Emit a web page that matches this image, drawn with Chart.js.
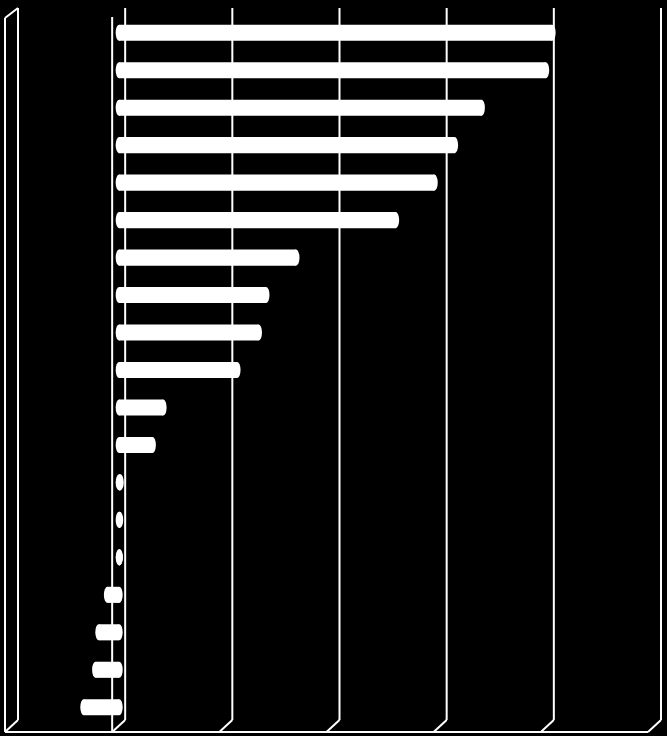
<!DOCTYPE html>
<html>
<head>
<meta charset="utf-8">
<title>Bar chart</title>
<script src="https://cdn.jsdelivr.net/npm/chart.js@4"></script>
<style>
  html, body { margin: 0; padding: 0; background: #000; }
  #chart { display: block; }
</style>
</head>
<body>
<canvas id="chart" width="667" height="736"></canvas>
<script>
// ===== data (in grid-step units) =====
const categories = ['1','2','3','4','5','6','7','8','9','10','11','12','13','14','15','16','17','18','19'];
const values = [4.04, 3.98, 3.38, 3.13, 2.94, 2.58, 1.65, 1.37, 1.30, 1.10, 0.41, 0.31, 0.01, 0.005, 0.003, -0.11, -0.19, -0.22, -0.33];
const tickValues = [-1, 0, 1, 2, 3, 4, 5];

// ===== fake 3D walls / floor drawn from the x scale =====
const BACK = { dx: 6, dy: -6 };
const FRONT = { dx: -7, dy: 6 };
const CAP_RX = 3.5;

const wallPlugin = {
  id: 'walls',
  beforeDatasetsDraw(chart) {
    const { ctx, chartArea: a, scales: { x } } = chart;
    const line = (x1, y1, x2, y2) => { ctx.beginPath(); ctx.moveTo(x1, y1); ctx.lineTo(x2, y2); ctx.stroke(); };
    ctx.save();
    ctx.strokeStyle = '#fff';
    ctx.lineWidth = 2;
    const bTop = a.top + BACK.dy, bBot = a.bottom + BACK.dy;
    const fTop = a.top + FRONT.dy, fBot = a.bottom + FRONT.dy;
    tickValues.forEach(v => {
      const px = x.getPixelForValue(v);
      line(px + BACK.dx, bTop, px + BACK.dx, bBot);      // back wall grid line
      line(px + BACK.dx, bBot, px + FRONT.dx, fBot);     // floor connector
    });
    // floor front edge
    line(x.getPixelForValue(tickValues[0]) + FRONT.dx, fBot,
         x.getPixelForValue(tickValues[tickValues.length - 1]) + FRONT.dx, fBot);
    // left side wall
    const lx = x.getPixelForValue(tickValues[0]);
    line(lx + FRONT.dx, fTop - 2, lx + FRONT.dx, fBot);
    line(lx + FRONT.dx, fTop - 2, lx + BACK.dx, bTop);
    // zero plane front edge
    const zx = x.getPixelForValue(0);
    line(zx + FRONT.dx, fTop - 3, zx + FRONT.dx, fBot);
    ctx.restore();
  },
  afterDatasetsDraw(chart) {
    // cylinder end caps at both ends of every bar
    const { ctx } = chart;
    ctx.save();
    ctx.fillStyle = '#fff';
    chart.getDatasetMeta(0).data.forEach(bar => {
      const p = bar.getProps(['x', 'y', 'base', 'height'], true);
      const ry = p.height / 2;
      [p.x, p.base].forEach(cx => {
        ctx.beginPath();
        ctx.ellipse(cx, p.y, CAP_RX, ry, 0, 0, Math.PI * 2);
        ctx.fill();
      });
    });
    ctx.restore();
  }
};

new Chart(document.getElementById('chart'), {
  type: 'bar',
  data: {
    labels: categories,
    datasets: [{
      data: values,
      backgroundColor: '#fff',
      borderWidth: 0,
      categoryPercentage: 1,
      barPercentage: 0.43
    }]
  },
  options: {
    indexAxis: 'y',
    responsive: false,
    animation: false,
    layout: { padding: { left: 12, right: 12, top: 14, bottom: 10 } },
    plugins: { legend: { display: false }, tooltip: { enabled: false } },
    scales: {
      x: { display: false, min: -1, max: 5, ticks: { stepSize: 1 } },
      y: { display: false }
    }
  },
  plugins: [wallPlugin]
});
</script>
</body>
</html>
